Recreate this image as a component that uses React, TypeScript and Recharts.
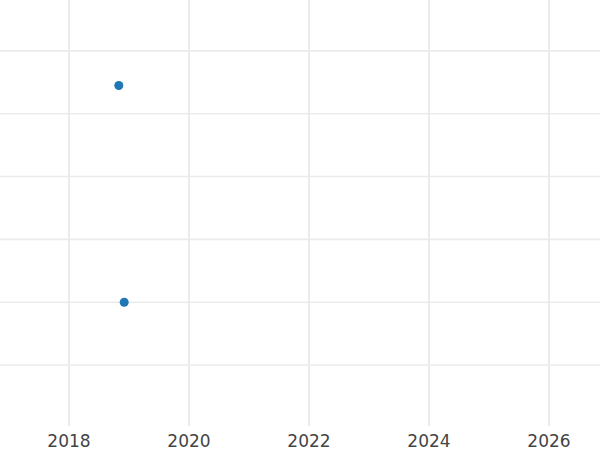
import { ReferenceLine, Scatter, ScatterChart, XAxis, YAxis } from "recharts";

const years = [2018, 2020, 2022, 2024, 2026];
const levels = [1, 2, 3, 4, 5, 6];
const points = [
  { year: 2018.83, value: 5.45 },
  { year: 2018.92, value: 2.0 },
];

export default function App() {
  return (
    <div style={{ position: "absolute", left: 0, top: 0, background: "#fff" }}>
      <ScatterChart
        width={600}
        height={450}
        margin={{ top: 0, right: 0, bottom: 0, left: 0 }}
      >
        <XAxis
          type="number"
          dataKey="year"
          domain={[2016.85, 2026.85]}
          ticks={years}
          allowDataOverflow
          axisLine={false}
          tickLine={false}
          height={24}
          tickMargin={3}
          tick={{ fill: "#444", fontSize: 17, fontFamily: "DejaVu Sans" }}
        />
        <YAxis
          type="number"
          dataKey="value"
          domain={[0.03, 6.81]}
          ticks={levels}
          allowDataOverflow
          hide
        />
        {years.map((y) => (
          <ReferenceLine key={"x" + y} x={y} stroke="#ebebeb" strokeWidth={2} />
        ))}
        {levels.map((v) => (
          <ReferenceLine key={"y" + v} y={v} stroke="#ebebeb" strokeWidth={1.6} />
        ))}
        <Scatter
          data={points}
          fill="#1f77b4"
          shape={(p: any) => <circle cx={p.cx} cy={p.cy} r={4.5} fill="#1f77b4" />}
          isAnimationActive={false}
        />
      </ScatterChart>
    </div>
  );
}
